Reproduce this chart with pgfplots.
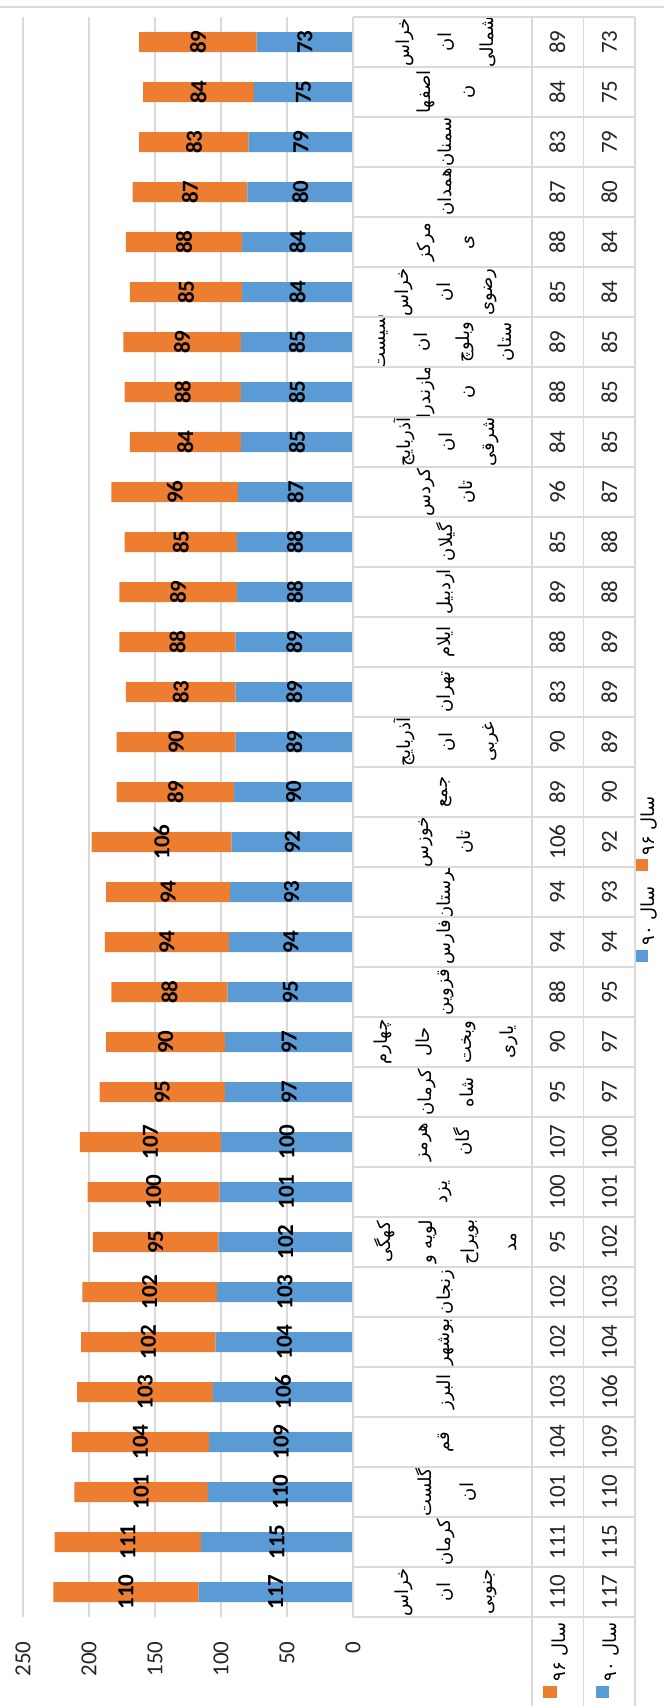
\documentclass[border=0pt]{standalone}
\usepackage{pgfplots}
\pgfplotsset{compat=1.18}
\usepackage{pgfplotstable}
\usepackage{fontspec}
\setmainfont{Carlito}
\newfontfamily\fa[Script=Arabic]{DejaVu Sans}
\TeXXeTstate=1
\newcommand\RL[1]{\beginR#1\endR}

\definecolor{s90}{HTML}{5B9BD5}
\definecolor{s96}{HTML}{ED7D31}
\definecolor{gridc}{HTML}{D9D9D9}
\definecolor{txt}{HTML}{262626}

\newcommand\numfont{\fontsize{11.5}{13}\selectfont}
\newcommand\fafont{\fa\fontsize{9}{21}\selectfont}

% i = row from top, a = 90, b = 96
\pgfplotstableread{
i a b
0 73 89
1 75 84
2 79 83
3 80 87
4 84 88
5 84 85
6 85 89
7 85 88
8 85 84
9 87 96
10 88 85
11 88 89
12 89 88
13 89 83
14 89 90
15 90 89
16 92 106
17 93 94
18 94 94
19 95 88
20 97 90
21 97 95
22 100 107
23 101 100
24 102 95
25 103 102
26 104 102
27 106 103
28 109 104
29 110 101
30 115 111
31 117 110
}\data

\pgfplotsset{base/.style={
  scale only axis, width=165pt, height=800pt,
  at={(11.5pt,-808.5pt)}, anchor=south west,
  xmin=0, xmax=250, ymin=-0.5, ymax=31.5,
  x dir=reverse, y dir=reverse, clip=false,
  axis line style={draw=none}, major tick length=0pt,
  /pgf/number format/assume math mode=true,
}}

\begin{document}
\begin{tikzpicture}
\useasboundingbox (0,0) rectangle (332pt,-853pt);

\begin{scope}[x=0.5pt,y=-0.5pt]
\draw[gridc, line width=0.75pt] (0,7) -- (664,7);
\end{scope}

\begin{axis}[base, xbar stacked, bar width=0.4,
  xtick={0,50,...,250}, xmajorgrids, grid style={gridc, line width=0.75pt},
  xticklabel pos=lower, xticklabel shift=12pt,
  xticklabel style={rotate=90, anchor=east, inner sep=0pt, font=\numfont, text=txt},
  ytick={0,...,31}, yticklabel pos=upper, yticklabel shift=46.5pt,
  yticklabel style={rotate=90, anchor=center, align=center, inner sep=0pt, font=\fafont, text=black},
  yticklabels={
    {\RL{خراس}\\\RL{ان}\\\RL{شمالی}},
    {\RL{اصفها}\\\RL{ن}},
    {\RL{سمنان}},
    {\RL{همدان}},
    {\RL{مرکز}\\\RL{ی}},
    {\RL{خراس}\\\RL{ان}\\\RL{رضوی}},
    {\RL{سیست}\\\RL{ان}\\\RL{وبلوچ}\\\RL{ستان}},
    {\RL{مازندرا}\\\RL{ن}},
    {\RL{آذربایج}\\\RL{ان}\\\RL{شرقی}},
    {\RL{کردس}\\\RL{تان}},
    {\RL{گیلان}},
    {\RL{اردبیل}},
    {\RL{ایلام}},
    {\RL{تهران}},
    {\RL{آذربایج}\\\RL{ان}\\\RL{غربی}},
    {\RL{جمع}},
    {\RL{خوزس}\\\RL{تان}},
    {\RL{لرستان}},
    {\RL{فارس}},
    {\RL{قزوین}},
    {\RL{چهارم}\\\RL{حال}\\\RL{وبخت}\\\RL{یاری}},
    {\RL{کرمان}\\\RL{شاه}},
    {\RL{هرمز}\\\RL{گان}},
    {\RL{یزد}},
    {\RL{کهگی}\\\RL{لویه و}\\\RL{بویراح}\\\RL{مد}},
    {\RL{زنجان}},
    {\RL{بوشهر}},
    {\RL{البرز}},
    {\RL{قم}},
    {\RL{گلست}\\\RL{ان}},
    {\RL{کرمان}},
    {\RL{خراس}\\\RL{ان}\\\RL{جنوبی}}},
  ]
\addplot[fill=s90, draw=none] table[x=a, y=i] \data;
\addplot[fill=s96, draw=none] table[x=b, y=i] \data;
\end{axis}

% labels in the bars and values of the data table
\begin{axis}[base, hide axis, nodes near coords, point meta=explicit,
  every node near coord/.append style={rotate=90, anchor=center, inner sep=0pt}]
\addplot[draw=none, mark=none, nodes near coords style={font=\bfseries\numfont, text=black}]
  table[x expr=\thisrow{a}/2, y=i, meta=a] \data;
\addplot[draw=none, mark=none, nodes near coords style={font=\bfseries\numfont, text=black}]
  table[x expr=\thisrow{a}+\thisrow{b}/2, y=i, meta=b] \data;
\addplot[draw=none, mark=none, nodes near coords style={font=\numfont, text=txt}]
  table[x expr=-154.9, y=i, meta=b] \data;
\addplot[draw=none, mark=none, nodes near coords style={font=\numfont, text=txt}]
  table[x expr=-194.3, y=i, meta=a] \data;
\end{axis}

% data table frame and legend
\begin{scope}[x=0.5pt,y=-0.5pt]
\foreach \k in {0,...,32} \draw[gridc, line width=0.75pt] (353,17+50*\k) -- (635,17+50*\k);
\draw[gridc, line width=0.75pt] (353,17) -- (353,1617);
\foreach \xx in {532,583.5,635} \draw[gridc, line width=0.75pt] (\xx,17) -- (\xx,1706);
\node[rotate=90, font=\fafont, inner sep=0pt] at (560,1652) {\RL{سال ۹۶}};
\fill[s96] (543,1686) rectangle (557,1698);
\node[rotate=90, font=\fafont, inner sep=0pt] at (611,1652) {\RL{سال ۹۰}};
\fill[s90] (596,1686) rectangle (609,1698);
\node[rotate=90, font=\fafont, inner sep=0pt] at (649,826) {\RL{سال ۹۶}};
\fill[s96] (636,859) rectangle (648,871);
\node[rotate=90, font=\fafont, inner sep=0pt] at (649,916) {\RL{سال ۹۰}};
\fill[s90] (636,950) rectangle (648,962);
\end{scope}
\end{tikzpicture}
\end{document}
